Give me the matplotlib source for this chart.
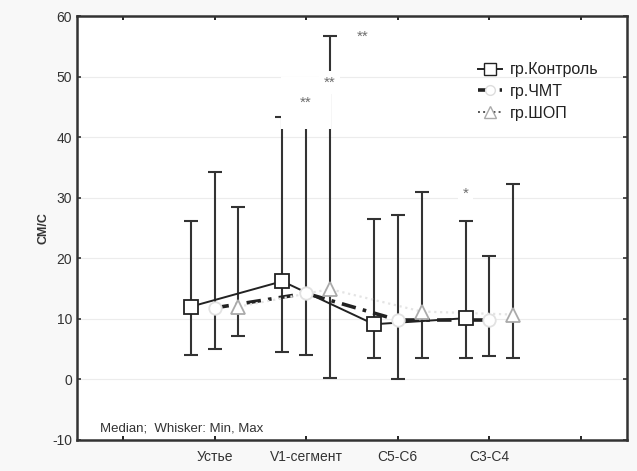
import numpy as np
import matplotlib
matplotlib.use("Agg")
import matplotlib.pyplot as plt
from matplotlib.lines import Line2D

plt.rcParams["font.family"] = ["Liberation Sans", "DejaVu Sans"]
plt.rcParams["axes.unicode_minus"] = False

# данные: медиана, минимум, максимум
categories = ["Устье", "V1-сегмент", "C5-C6", "C3-C4"]
groups = ["гр.Контроль", "гр.ЧМТ", "гр.ШОП"]

control_med = [12.0, 16.2, 9.1, 10.1]
control_min = [4.0, 4.6, 3.6, 3.5]
control_max = [26.2, 43.4, 26.4, 26.2]

chmt_med = [11.8, 14.2, 9.8, 9.8]
chmt_min = [5.0, 4.1, 0.0, 3.8]
chmt_max = [34.2, 44.0, 27.2, 20.3]

shop_med = [12.0, 14.9, 11.2, 10.7]
shop_min = [7.2, 0.2, 3.5, 3.5]
shop_max = [28.5, 56.7, 31.0, 32.3]

# значимость: (индекс категории, позиция, y, текст, отступ рамки)
signif = [(1, 1, 45.6, "**", 1.25), (1, 2, 49.0, "**", 0.3),
          (1, 3, 56.6, "**", 0.3), (3, 0, 30.7, "*", 0.3)]

fig = plt.figure(figsize=(6.37, 4.71), dpi=100)
fig.patch.set_facecolor("#f8f8f8")
ax = fig.add_axes([0.121, 0.066, 0.863, 0.900])
ax.set_facecolor("white")

x = np.arange(1, len(categories) + 1)
off = 0.26

styles = [
    dict(data=(control_med, control_min, control_max), dx=-off, marker="s", ms=9.5,
         mfc="white", mec="#222222", ls="-", lc="#222222", lw=1.4, z=5),
    dict(data=(chmt_med, chmt_min, chmt_max), dx=0.0, marker="o", ms=9,
         mfc="white", mec="#e2e2e2", ls=(0, (4, 2, 1, 2)), lc="#222222", lw=2.6, z=4),
    dict(data=(shop_med, shop_min, shop_max), dx=off, marker="^", ms=9.5,
         mfc="white", mec="#aaaaaa", ls=":", lc="#e4e4e4", lw=1.6, z=6),
]

for st in styles:
    med, lo, hi = [np.array(v) for v in st["data"]]
    xs = x + st["dx"]
    ax.errorbar(xs, med, yerr=[med - lo, hi - med], fmt="none", ecolor="#333333",
                elinewidth=1.5, capsize=4.7, capthick=1.5, zorder=2)
    ax.plot(xs, med, ls=st["ls"], color=st["lc"], lw=st["lw"], zorder=st["z"])
    ax.plot(xs, med, ls="none", marker=st["marker"], ms=st["ms"], mfc=st["mfc"],
            mec=st["mec"], mew=1.3, zorder=st["z"] + 4)

pos = [-off, 0.0, off, off + 0.36]
for ci, gi, yv, txt, pad in signif:
    ax.text(x[ci] + pos[gi], yv, txt, ha="center", va="center", fontsize=11,
            color="#6e6e6e", zorder=12,
            bbox=dict(boxstyle=f"square,pad={pad}", facecolor="white", edgecolor="none"))

ax.set_xlim(-0.5, 5.5)
ax.set_ylim(-10, 60)
ax.set_xticks(np.arange(0, 6))
ax.set_xticklabels([""] + categories + [""], fontsize=10, color="#333333")
ax.set_yticks(np.arange(-10, 61, 10))
ax.tick_params(axis="y", labelsize=10, colors="#333333")
ax.tick_params(direction="in", length=3, top=True, right=True, width=1.2)
ax.tick_params(axis="x", pad=7)
for sp in ax.spines.values():
    sp.set_linewidth(1.8)
    sp.set_color("#333333")
for yv in range(0, 60, 10):
    ax.axhline(yv, color="#ececec", lw=0.8, zorder=0)

ax.set_ylabel("СМ/С", fontsize=9, fontweight="bold", color="#333333", labelpad=2)
ax.text(-0.25, -8.1, "Median;  Whisker: Min, Max", fontsize=9.5, color="#333333",
        va="center")

handles = [
    Line2D([], [], ls="-", color="#222222", lw=1.4, marker="s",
           ms=8, mfc="white", mec="#222222"),
    Line2D([], [], ls=(0, (4, 2, 1, 2)), color="#222222", lw=2.6, marker="o",
           ms=7, mfc="white", mec="#dddddd"),
    Line2D([], [], ls=":", color="#555555", lw=1.4, marker="^", ms=8, mfc="white",
           mec="#aaaaaa"),
]
leg = ax.legend(handles, groups, loc="upper left", bbox_to_anchor=(0.703, 0.925),
                frameon=False, fontsize=11.5, handlelength=1.5, labelspacing=0.42,
                handletextpad=0.5)
for t in leg.get_texts():
    t.set_color("#222222")

fig.savefig("out.png", dpi=100, facecolor=fig.get_facecolor())
